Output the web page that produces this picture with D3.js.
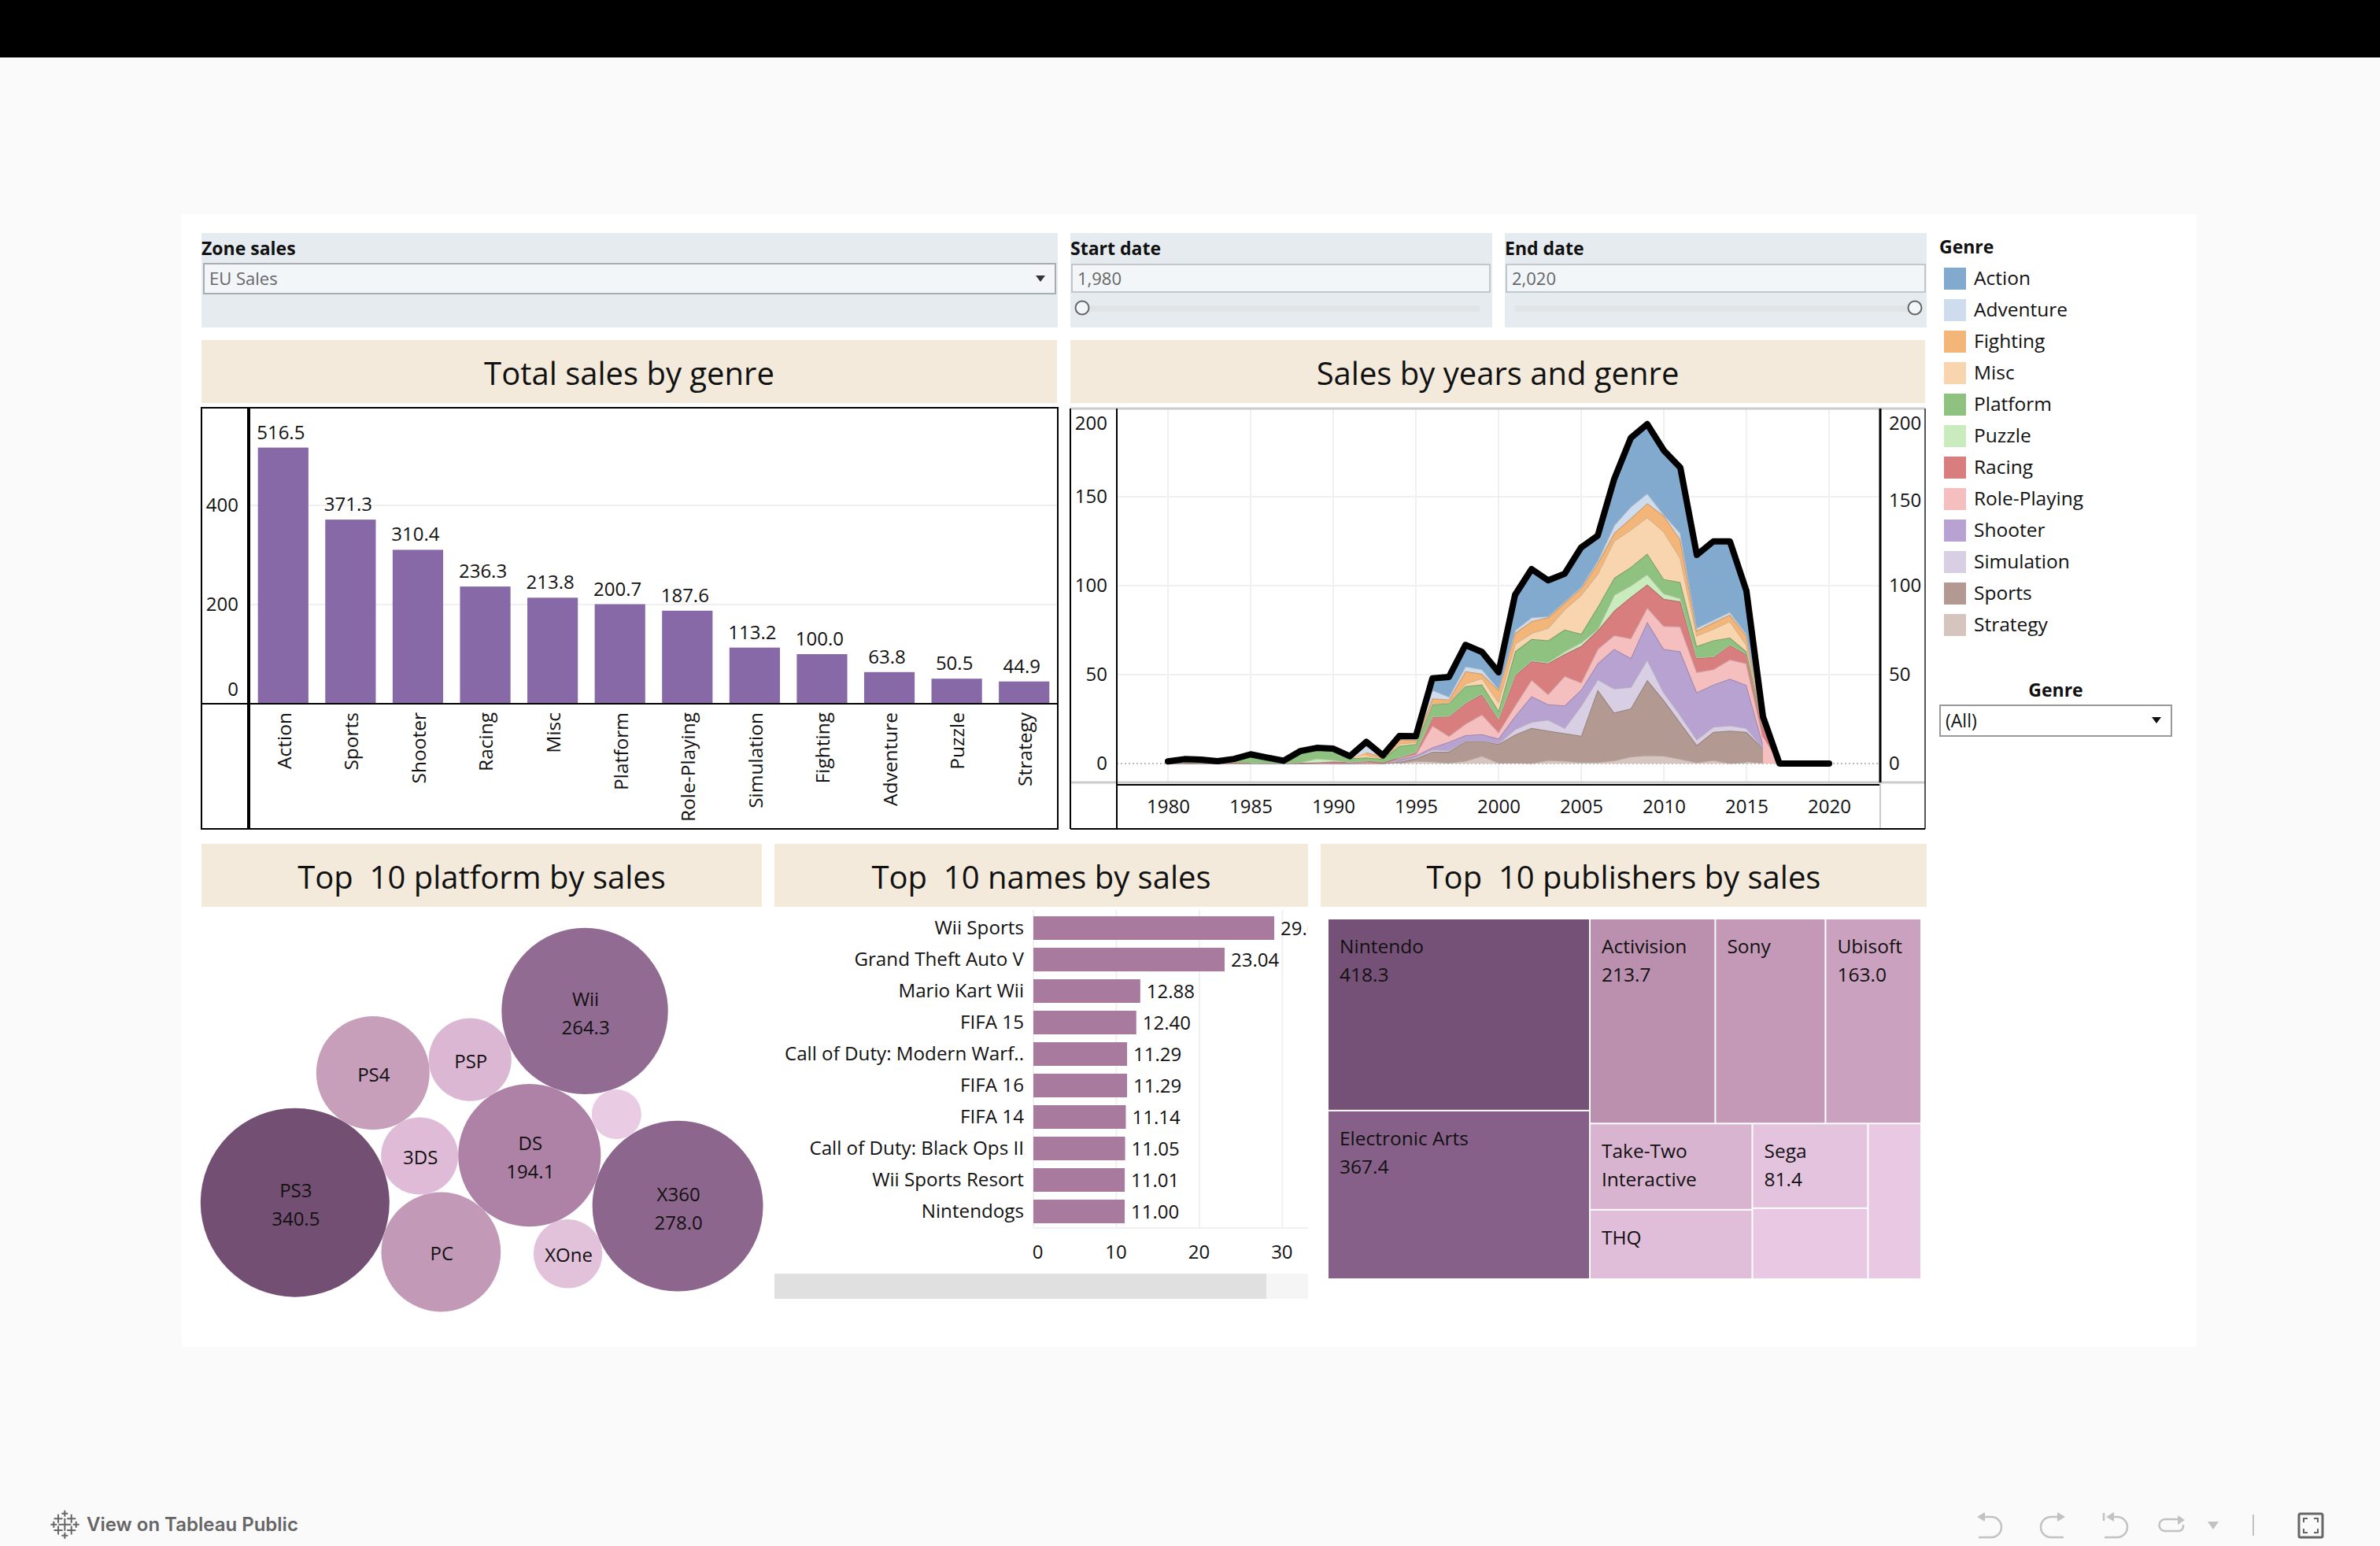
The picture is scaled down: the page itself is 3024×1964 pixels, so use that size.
<!DOCTYPE html>
<html>
<head>
<meta charset="utf-8">
<script src="https://cdn.jsdelivr.net/npm/d3@7"></script>
<style>
  html, body { margin: 0; padding: 0; background: #fafafa; }
  svg { display: block; }
  text { font-family: "Open Sans", "Noto Sans", sans-serif; fill: #111; }
</style>
</head>
<body>
<svg id="chart" width="3024" height="1964"></svg>
<script>
// total sales by genre
var barGenres = ["Action", "Sports", "Shooter", "Racing", "Misc", "Platform", "Role-Playing", "Simulation", "Fighting", "Adventure", "Puzzle", "Strategy"]
var barSales = [516.5, 371.3, 310.4, 236.3, 213.8, 200.7, 187.6, 113.2, 100.0, 63.8, 50.5, 44.9]
var barTicks = [0, 200, 400]

// sales by year. 2016 is there twice: in the reference the lower genres stop dead at 2016
var years = [1980, 1981, 1982, 1983, 1984, 1985, 1986, 1987, 1988, 1989, 1990, 1991, 1992, 1993, 1994, 1995, 1996, 1997, 1998, 1999, 2000, 2001, 2002, 2003, 2004, 2005, 2006, 2007, 2008, 2009, 2010, 2011, 2012, 2013, 2014, 2015, 2016, 2016, 2017, 2018, 2019, 2020]
var strategy = [0, 0, 0, 0, 0, 0, 0, 0, 0, 0, 0, 0, 0, 0, .2, 1.5, 1.2, .4, 1.5, 4.4, .4, .6, .2, 2, 1.5, .8, .8, 1.8, 4, 4.7, 4.4, 2.7, .7, 2, .2, .8, 0, 0, 0, 0, 0, 0]
var sports = [.1, .1, .1, .1, .2, .1, .1, .1, .1, .2, .1, .1, .2, .1, .8, 1.4, 5.4, 6.2, 11, 8.4, 10.6, 15.7, 19.8, 16.5, 15.5, 14.8, 40.7, 26.8, 27, 42.3, 31.2, 20.3, 9.7, 15.8, 18.3, 17, 8.6, 0, 0, 0, 0, 0]
var simulation = [0, 0, 0, 0, 0, 0, 0, 0, 0, .1, 0, 0, 0, 0, .3, .8, 1.2, .8, .3, .2, .4, 3, 3.4, 6.2, 3, 17, 5.9, 13.6, 12, 11.5, 4.4, 4.4, 3.2, 2.9, 3, 2.2, .3, 0, 0, 0, 0, 0]
var shooter = [.1, .1, .1, .1, .1, .2, .1, 0, .1, .1, .1, .1, .2, 0, .9, .7, 1.3, 4.8, 3.1, 3.5, 2.6, 7.4, 14.4, 8.6, 12.6, 8.9, 8.9, 22.2, 16.3, 21.2, 24.4, 35.6, 26.4, 23.7, 26.2, 24.1, 2.1, 0, 0, 0, 0, 0]
var rolePlaying = [0, 0, 0, 0, 0, 0, 0, 0, 0, .1, 0, 0, .3, .1, .7, .8, 12.3, 3.3, 6.5, 11.1, 3.7, 5.9, 9.3, 5.7, 16.6, 4.1, 8.1, 7.7, 11.1, 8, 12.9, 14, 11.4, 8.6, 10.8, 12.2, 3.8, 14.8, 0, 0, 0, 0]
var racing = [0, .1, 0, 0, .1, 0, 0, 0, .2, .1, .9, .6, .7, .2, .4, 1.4, 4.9, 11, 11.5, 11.4, 7.3, 17, 10.4, 17.3, 12.3, 20.4, 10.4, 13.8, 23.2, 13, 15.3, 14.1, 7.9, 7, 8.2, 5.2, 5.9, 5.9, 0, 0, 0, 0]
var puzzle = [0, 0, 0, 0, 0, .1, 0, 0, .4, 2.3, 1, .1, .1, 0, .1, .1, .2, .3, .3, .4, .4, .4, .5, .7, 1.5, 2.1, .8, 8.9, 6.4, 5.7, 3, 1.8, .3, .3, .3, .3, .3, .3, 0, 0, 0, 0]
var platform = [0, .6, .5, .2, 1, 3.3, 1.4, .4, 5, 4.7, 5.1, 2, 1.9, 2.2, 6.6, 4.3, 6.7, 7.1, 9.3, 5.1, 4.4, 13, 12, 12.3, 12.3, 4.8, 12.5, 9.6, 10.4, 11.6, 8.1, 9.1, 6.4, 9, 3.8, 1.2, 1, 1, 0, 0, 0, 0]
var misc = [0, 0, 0, 0, 0, 0, 0, 0, 0, 0, 0, 0, 1.3, .4, 1.2, 1, .7, .3, 1.5, 3.5, 4.9, 4.4, 3.3, 7, 11.4, 21.9, 18.6, 20.8, 21, 20.5, 26.7, 13.6, 5.9, 6.3, 9.2, 3.7, 1, 1, 0, 0, 0, 0]
var fighting = [0, 0, 0, 0, 0, 0, 0, 0, 0, 0, 0, 0, 1.6, .9, 2.3, 1.3, 2.7, 1.8, 6.9, 2.4, 6.6, 5.9, 6.7, 5.9, 3.7, 3.7, 5.9, 4.4, 6.4, 7.9, 8.9, 10.4, 2.9, 3.7, 3.7, 5.2, 1, 1, 0, 0, 0, 0]
var adventure = [0, 0, 0, 0, 0, 0, 0, 0, 0, 0, 0, 0, 3.6, .2, .5, .7, 4.7, 1.6, 2.7, 2.6, .7, 1.7, 2.2, .5, .6, .8, 1.4, 4.4, 6.6, 5.5, .7, 3.6, 1.5, 1.4, 1.5, 1, 1.2, 1.2, 0, 0, 0, 0]
var action = [1, 1.6, 1.5, .9, 1.2, 1.5, 1.8, 1.1, 1.2, 1.2, 1.2, 1.2, 2.3, .5, 1.5, 1.4, 6.6, 11.1, 12.1, 9.7, 9.3, 19.8, 27.1, 20.3, 15.7, 22.2, 14.1, 26, 38.6, 38.9, 36, 36.8, 41, 44.2, 39.7, 24.1, 1.2, 1.2, 0, 0, 0, 0]
var yearTicks = [1980, 1985, 1990, 1995, 2000, 2005, 2010, 2015, 2020]
var salesTicks = [0, 50, 100, 150, 200]

var legendNames = ["Action", "Adventure", "Fighting", "Misc", "Platform", "Puzzle", "Racing", "Role-Playing", "Shooter", "Simulation", "Sports", "Strategy"]
var legendColors = ["#82a9ce", "#cfdcee", "#f4b678", "#f8d5ae", "#8fc180", "#c9ebbd", "#d97e7f", "#f5bfbf", "#b8a2d1", "#d9cfe4", "#b29a92", "#d6c4be"]
var stackOrder = ["Strategy", "Sports", "Simulation", "Shooter", "Role-Playing", "Racing", "Puzzle", "Platform", "Misc", "Fighting", "Adventure", "Action"]
var stackValues = [strategy, sports, simulation, shooter, rolePlaying, racing, puzzle, platform, misc, fighting, adventure, action]

// top platforms
var platformNames = ["PS3", "X360", "Wii", "DS", "PC", "PS4", "PSP", "3DS", "XOne", ""]
var platformSales = [340.5, 278.0, 264.3, 194.1, 136.2, 122.6, 65.4, 56.8, 45.2, 23.6]
var platformShown = [340.5, 278.0, 264.3, 194.1, null, null, null, null, null, null]
// which bubbles touch in the reference, the force layout below solves the packing from this
var platformContacts = [[0, 5], [0, 7], [0, 4], [5, 6], [5, 7], [7, 3], [7, 4], [6, 2], [2, 9], [3, 9], [1, 9], [1, 3], [1, 8], [6, 3], [2, 3], [4, 3], [8, 3]]
var packSeedOrder = [7, 3, 4, 6, 8, 2, 5, 0, 1, 9]

// top names
var gameNames = ["Wii Sports", "Grand Theft Auto V", "Mario Kart Wii", "FIFA 15", "Call of Duty: Modern Warf..", "FIFA 16", "FIFA 14", "Call of Duty: Black Ops II", "Wii Sports Resort", "Nintendogs"]
var gameSales = [29.02, 23.04, 12.88, 12.40, 11.29, 11.29, 11.14, 11.05, 11.01, 11.00]
var gameTicks = [0, 10, 20, 30]

// top publishers, nested the way the reference tiles them
var publisherNames = ["Nintendo", "Electronic Arts", "Activision", "Sony", "Ubisoft", "Take-Two Interactive", "THQ", "Sega", "Konami", "Microsoft"]
var publisherSales = [418.3, 367.4, 213.7, 187.8, 163.0, 116.5, 93.8, 81.4, 68.3, 68.8]

var platformColor = d3.scaleLinear()
    .domain([23, 57, 123, 195, 270, 340])
    .range(["#e9cbe3", "#dfbbd7", "#c79fbb", "#ae82a6", "#8f6990", "#744f74"])
var publisherColor = d3.scaleLinear()
    .domain([68, 95, 165, 215, 370, 420])
    .range(["#e8c8e2", "#e0bdd9", "#c9a0bd", "#bb90af", "#855f88", "#755076"])

var svg = d3.select("#chart")

function label(g, x, y, text, size, anchor, weight, color) {
    return g.append("text")
        .attr("x", x)
        .attr("y", y)
        .attr("dy", "0.36em")
        .attr("text-anchor", anchor || "start")
        .style("font-size", (size || 24) + "px")
        .style("font-weight", weight || 400)
        .style("fill", color || "#111")
        .text(text)
}

function box(g, x0, y0, x1, y1, fill, stroke, width) {
    return g.append("rect")
        .attr("x", x0)
        .attr("y", y0)
        .attr("width", x1 - x0)
        .attr("height", y1 - y0)
        .attr("fill", fill || "none")
        .attr("stroke", stroke || "none")
        .attr("stroke-width", width || 0)
}

function rule(g, x0, y0, x1, y1, stroke, width) {
    return g.append("line")
        .attr("x1", x0).attr("y1", y0)
        .attr("x2", x1).attr("y2", y1)
        .attr("stroke", stroke)
        .attr("stroke-width", width)
}

// page
var page = svg.append("g")
box(page, 0, 0, 3024, 73, "#000")
box(page, 231, 272, 2791, 1711, "#fff")

// filters
var filters = svg.append("g")
box(filters, 256, 296, 1344, 416, "#e6ebef")
label(filters, 256, 316, "Zone sales", 23, "start", 700)
box(filters, 259, 335, 1341, 373, "#f2f6f9", "#a9adb1", 2)
label(filters, 266, 354, "EU Sales", 22, "start", 400, "#666")
filters.append("path").attr("d", "M1316 350h12l-6 8z").attr("fill", "#333")

box(filters, 1360, 296, 1896, 416, "#e6ebef")
label(filters, 1360, 316, "Start date", 23, "start", 700)
box(filters, 1362, 336, 1893, 371, "#f2f6f9", "#c3c7cb", 2)
label(filters, 1369, 354, "1,980", 22, "start", 400, "#666")
box(filters, 1375, 388, 1880, 396, "#e1e4e7")
filters.append("circle").attr("cx", 1375).attr("cy", 391).attr("r", 8.5).attr("fill", "#f2f6f9").attr("stroke", "#666").attr("stroke-width", 2)

box(filters, 1912, 296, 2448, 416, "#e6ebef")
label(filters, 1912, 316, "End date", 23, "start", 700)
box(filters, 1914, 336, 2446, 371, "#f2f6f9", "#c3c7cb", 2)
label(filters, 1921, 354, "2,020", 22, "start", 400, "#666")
box(filters, 1925, 388, 2432, 396, "#e1e4e7")
filters.append("circle").attr("cx", 2433).attr("cy", 391).attr("r", 8.5).attr("fill", "#f2f6f9").attr("stroke", "#666").attr("stroke-width", 2)

// legend
var legend = svg.append("g")
label(legend, 2464, 314, "Genre", 23, "start", 700)
var legendY = d3.scalePoint().domain(legendNames).range([354, 794])
legend.selectAll("rect.swatch")
    .data(legendNames)
    .enter().append("rect")
    .attr("class", "swatch")
    .attr("x", 2470)
    .attr("y", d => legendY(d) - 14)
    .attr("width", 28)
    .attr("height", 28)
    .attr("fill", (d, i) => legendColors[i])
legendNames.forEach(d => label(legend, 2508, legendY(d) - 1, d, 24.5))
label(legend, 2612, 877, "Genre", 23, "middle", 700)
box(legend, 2465, 896, 2759, 935, "#fff", "#999", 2)
label(legend, 2472, 916, "(All)", 23)
legend.append("path").attr("d", "M2734 911h12l-6 8z").attr("fill", "#111")

// band titles
var titles = svg.append("g")
var bands = [
    [256, 432, 1343, 512, "Total sales by genre"],
    [1360, 432, 2446, 512, "Sales by years and genre"],
    [256, 1072, 968, 1152, "Top  10 platform by sales"],
    [984, 1072, 1662, 1152, "Top  10 names by sales"],
    [1678, 1072, 2448, 1152, "Top  10 publishers by sales"]
]
bands.forEach(b => {
    box(titles, b[0], b[1], b[2], b[3], "#f3eadb")
    label(titles, (b[0] + b[2]) / 2, (b[1] + b[3]) / 2 + 3, b[4], 40, "middle", 500).style("white-space", "pre")
})

// Total sales by genre
var barG = svg.append("g")
var x = d3.scaleBand().domain(barGenres).range([317, 1344]).paddingInner(0.25).paddingOuter(0.125)
var y = d3.scaleLinear().domain([0, 400]).range([894, 642])

barG.selectAll("line.grid").data(barTicks.slice(1)).enter().append("line")
    .attr("class", "grid")
    .attr("x1", 317).attr("x2", 1344)
    .attr("y1", d => y(d)).attr("y2", d => y(d))
    .attr("stroke", "#efefef").attr("stroke-width", 2)

barG.selectAll("rect.bar").data(barGenres).enter().append("rect")
    .attr("class", "bar")
    .attr("x", d => x(d))
    .attr("width", x.bandwidth())
    .attr("y", (d, i) => y(barSales[i]))
    .attr("height", (d, i) => y(0) - y(barSales[i]))
    .attr("fill", "#8669a6")

barG.selectAll("text.value").data(barGenres).enter().append("text")
    .attr("class", "value")
    .attr("x", d => x(d) + x.bandwidth() / 2 - 3)
    .attr("y", (d, i) => y(barSales[i]) - 11)
    .attr("text-anchor", "middle")
    .style("font-size", "24px")
    .text((d, i) => barSales[i].toFixed(1))

var barAxisY = barG.append("g")
    .attr("transform", "translate(315,0)")
    .call(d3.axisLeft(y).tickValues(barTicks).tickSize(0).tickPadding(12))
barAxisY.select(".domain").remove()
barAxisY.selectAll("text").style("font-size", "24px").attr("dy", d => d === 0 ? "-0.45em" : "0.32em")

var barAxisX = barG.append("g")
    .attr("transform", "translate(0,894)")
    .call(d3.axisBottom(x).tickSize(0))
barAxisX.select(".domain").remove()
barAxisX.selectAll("text")
    .style("font-size", "24.5px")
    .attr("text-anchor", "end")
    .attr("transform", "rotate(-90)")
    .attr("x", -11)
    .attr("y", 1)
    .attr("dy", "0.36em")

box(barG, 256, 518, 315, 894, "none", "#000", 2)
box(barG, 256, 894, 315, 1053, "none", "#000", 2)
box(barG, 317, 518, 1344, 1053, "none", "#000", 2)
rule(barG, 317, 894, 1344, 894, "#000", 2)

// Sales by years and genre
var areaG = svg.append("g")
var xYear = d3.scaleLinear().domain([1980, 2020]).range([1484, 2324])
var ySales = d3.scaleLinear().domain([0, 200]).range([970, 518])

yearTicks.forEach(d => rule(areaG, xYear(d), 520, xYear(d), 994, "#f0f0f0", 2))
salesTicks.slice(1, 4).forEach(d => rule(areaG, 1419, ySales(d), 2389, ySales(d), "#f0f0f0", 2))
rule(areaG, 1419, ySales(0), 2389, ySales(0), "#bbb", 2).attr("stroke-dasharray", "2 3")

var rows = years.map((year, i) => {
    var row = { year: year }
    stackOrder.forEach((name, k) => { row[name] = stackValues[k][i] })
    return row
})
var layers = d3.stack().keys(stackOrder)(rows)
var colorByGenre = d3.scaleOrdinal().domain(legendNames).range(legendColors)

var area = d3.area()
    .x(d => xYear(d.data.year))
    .y0(d => ySales(d[0]))
    .y1(d => ySales(d[1]))
var edge = d3.line()
    .x(d => xYear(d.data.year))
    .y(d => ySales(d[1]))

var layerG = areaG.selectAll("g.layer").data(layers).enter().append("g").attr("class", "layer")
layerG.append("path")
    .attr("d", area)
    .attr("fill", d => colorByGenre(d.key))
layerG.append("path")
    .attr("d", d => edge(d.filter(p => p.data.year < 2017 && p[1] > p[0])))
    .attr("fill", "none")
    .attr("stroke", d => d3.color(colorByGenre(d.key)).darker(0.5))
    .attr("stroke-width", 2)

var totals = years.map((year, i) => ({ year: year, total: d3.sum(stackValues, v => v[i]) }))
areaG.append("path")
    .datum(totals)
    .attr("d", d3.line().x(d => xYear(d.year)).y(d => ySales(d.total)))
    .attr("fill", "none")
    .attr("stroke", "#000")
    .attr("stroke-width", 8)
    .attr("stroke-linecap", "round")
    .attr("stroke-linejoin", "round")

var leftAxis = areaG.append("g")
    .attr("transform", "translate(1407,0)")
    .call(d3.axisLeft(ySales).tickValues(salesTicks).tickSize(0).tickPadding(0))
var rightAxis = areaG.append("g")
    .attr("transform", "translate(2400,0)")
    .call(d3.axisRight(ySales).tickValues(salesTicks).tickSize(0).tickPadding(0))
var bottomAxis = areaG.append("g")
    .attr("transform", "translate(0,1016)")
    .call(d3.axisBottom(xYear).tickValues(yearTicks).tickFormat(d3.format("d")).tickSize(0).tickPadding(0))
;[leftAxis, rightAxis, bottomAxis].forEach(a => {
    a.select(".domain").remove()
    a.selectAll("text").style("font-size", "24px")
})
leftAxis.selectAll("text").attr("dy", d => d === 200 ? "1.15em" : "0.32em")
rightAxis.selectAll("text").attr("dy", d => d === 200 ? "1.15em" : d === 150 ? "0.5em" : "0.32em")

rule(areaG, 1360, 519, 2446, 519, "#ccc", 3)
rule(areaG, 1360, 994, 2446, 994, "#ccc", 3)
rule(areaG, 1419, 997, 2389, 997, "#000", 2)
rule(areaG, 1360, 519, 1360, 1053, "#000", 2)
rule(areaG, 1419, 519, 1419, 1053, "#000", 2)
rule(areaG, 2389, 519, 2389, 994, "#000", 3)
rule(areaG, 2389, 994, 2389, 1053, "#ccc", 2)
rule(areaG, 2446, 519, 2446, 1053, "#555", 2)
rule(areaG, 1360, 1053, 2446, 1053, "#000", 2)

// Top 10 platform by sales
var bubbleG = svg.append("g")
var radius = d3.scaleSqrt().domain([0, 340.5]).range([0, 120])

// start from d3's own packing, then relax to the reference's contacts
var bubbles = d3.packSiblings(packSeedOrder.map(i => ({ i: i, r: radius(platformSales[i]) })))
bubbles.sort((a, b) => a.i - b.i)
var contactLinks = platformContacts.map(c => ({ source: c[0], target: c[1] }))
d3.forceSimulation(bubbles)
    .force("contact", d3.forceLink(contactLinks)
        .id(d => d.i)
        .distance(l => l.source.r + l.target.r)
        .strength(0.5)
        .iterations(4))
    .alphaDecay(0)
    .alpha(1)
    .stop()
    .tick(4000)

// turn the solved pack and move it into its panel
var packAngle = 0.05316, packX = 611.71, packY = 1495.31
var cosA = Math.cos(packAngle), sinA = Math.sin(packAngle)
bubbles.forEach(d => {
    d.px = d.x * cosA - d.y * sinA + packX
    d.py = d.x * sinA + d.y * cosA + packY
})

bubbleG.selectAll("circle").data(bubbles).enter().append("circle")
    .attr("cx", d => d.px).attr("cy", d => d.py).attr("r", d => d.r)
    .attr("fill", d => platformColor(platformSales[d.i]))
bubbles.forEach(d => {
    var shown = platformShown[d.i]
    if (shown != null) {
        label(bubbleG, d.px + 1, d.py - 15, platformNames[d.i], 24, "middle")
        label(bubbleG, d.px + 1, d.py + 21, shown.toFixed(1), 24, "middle")
    } else if (platformNames[d.i]) {
        label(bubbleG, d.px + 1, d.py + 2, platformNames[d.i], 24, "middle")
    }
})

// Top 10 names by sales
var nameG = svg.append("g")
var xName = d3.scaleLinear().domain([0, 33]).range([1313, 1661])
var yName = d3.scaleBand().domain(gameNames).range([1159, 1559]).paddingInner(0.25).paddingOuter(0.125)

gameTicks.forEach(d => rule(nameG, xName(d), 1156, xName(d), 1560, "#f0f0f0", 2))
rule(nameG, 1313, 1560, 1662, 1560, "#f0f0f0", 2)

nameG.selectAll("rect").data(gameNames).enter().append("rect")
    .attr("x", xName(0))
    .attr("y", d => yName(d))
    .attr("width", (d, i) => xName(gameSales[i]) - xName(0))
    .attr("height", yName.bandwidth())
    .attr("fill", "#a87b9e")

svg.append("clipPath").attr("id", "nameClip")
    .append("rect").attr("x", 984).attr("y", 1152).attr("width", 678).attr("height", 420)

nameG.append("g").attr("clip-path", "url(#nameClip)")
    .selectAll("text").data(gameNames).enter().append("text")
    .attr("x", (d, i) => xName(gameSales[i]) + 8)
    .attr("y", d => yName(d) + yName.bandwidth() / 2)
    .attr("dy", "0.36em")
    .style("font-size", "24px")
    .text((d, i) => gameSales[i].toFixed(2))

var nameAxisY = nameG.append("g")
    .attr("transform", "translate(1301,0)")
    .call(d3.axisLeft(yName).tickSize(0).tickPadding(0))
nameAxisY.select(".domain").remove()
nameAxisY.selectAll("text").style("font-size", "24.2px")

var nameAxisX = nameG.append("g")
    .attr("transform", "translate(0,1582)")
    .call(d3.axisBottom(xName).tickValues(gameTicks).tickSize(0).tickPadding(0))
nameAxisX.select(".domain").remove()
nameAxisX.selectAll("text").style("font-size", "24px").attr("dx", d => d === 0 ? 5 : -1)

box(nameG, 984, 1618, 1662, 1650, "#f5f5f5")
box(nameG, 984, 1618, 1609, 1650, "#e0e0e0")

// Top 10 publishers by sales
var treeG = svg.append("g")
function leaf(i) { return { name: publisherNames[i], value: publisherSales[i], index: i } }
var tree = {
    children: [
        { children: [leaf(0), leaf(1)] },
        { children: [
            { children: [leaf(2), leaf(3), leaf(4)] },
            { children: [
                { children: [leaf(5), leaf(6)] },
                { children: [leaf(7), leaf(8)] },
                { children: [leaf(9)] }
            ] }
        ] }
    ]
}
var root = d3.hierarchy(tree).sum(d => d.value || 0)
d3.treemap()
    .tile(d3.treemapSliceDice)
    .size([752, 456])
    .paddingInner(2)(root)

var cells = treeG.append("g").attr("transform", "translate(1688,1168)")
    .selectAll("g").data(root.leaves()).enter().append("g")
cells.append("rect")
    .attr("x", d => d.x0)
    .attr("y", d => d.y0)
    .attr("width", d => d.x1 - d.x0)
    .attr("height", d => d.y1 - d.y0)
    .attr("fill", d => publisherColor(d.data.value))

var treeLabels = {
    "Nintendo": ["Nintendo", "418.3"],
    "Electronic Arts": ["Electronic Arts", "367.4"],
    "Activision": ["Activision", "213.7"],
    "Sony": ["Sony"],
    "Ubisoft": ["Ubisoft", "163.0"],
    "Take-Two Interactive": ["Take-Two", "Interactive"],
    "THQ": ["THQ"],
    "Sega": ["Sega", "81.4"]
}
cells.each(function (d) {
    var lines = treeLabels[d.data.name] || []
    var g = d3.select(this)
    lines.forEach((t, i) => label(g, d.x0 + 14, d.y0 + 34 + i * 36, t, 24.5))
})

// footer
var footer = svg.append("g")
var logoCrosses = [[82.3, 1936.7, 8], [82.3, 1922.7, 4], [82.3, 1950.7, 4], [68.3, 1936.7, 4], [96.7, 1936.7, 4], [74, 1929.3, 5.5], [90.7, 1929.3, 5.5], [74, 1944, 5.5], [90.7, 1944, 5.5]]
logoCrosses.forEach(c => {
    footer.append("path")
        .attr("d", `M${c[0] - c[2]} ${c[1]}H${c[0] + c[2]}M${c[0]} ${c[1] - c[2]}V${c[1] + c[2]}`)
        .attr("stroke", "#666").attr("stroke-width", 2).attr("fill", "none")
})
label(footer, 110, 1936, "View on Tableau Public", 24, "start", 600, "#666").style("font-family", "Inter")

var iconLines = [
    "M2517 1927H2530a13 13 0 0 1 0 26H2514",
    "M2618 1927H2606a13 13 0 0 0 0 26H2622",
    "M2681 1927H2690a13 13 0 0 1 0 26H2674M2673 1922V1932",
    "M2772 1930H2751a7.5 7.5 0 0 0 0 15H2768a6 6 0 0 0 6 -6v-2"
]
iconLines.forEach(d => footer.append("path").attr("d", d).attr("fill", "none").attr("stroke", "#c2c2c2").attr("stroke-width", 2.5))
var iconHeads = ["M2512 1927l10-6v12z", "M2624 1927l-10-6v12z", "M2676 1927l10-6v12z", "M2776 1931l-9-6v12z", "M2805 1933h14l-7 10z"]
iconHeads.forEach(d => footer.append("path").attr("d", d).attr("fill", "#c2c2c2"))
rule(footer, 2863, 1924, 2863, 1951, "#c2c2c2", 2)
box(footer, 2921, 1923, 2951, 1953, "none", "#666", 3).attr("rx", 2)
footer.append("path")
    .attr("d", "M2927 1934v-5h5M2940 1929h5v5M2945 1942v5h-5M2932 1947h-5v-5")
    .attr("fill", "none").attr("stroke", "#666").attr("stroke-width", 2)
</script>
</body>
</html>
